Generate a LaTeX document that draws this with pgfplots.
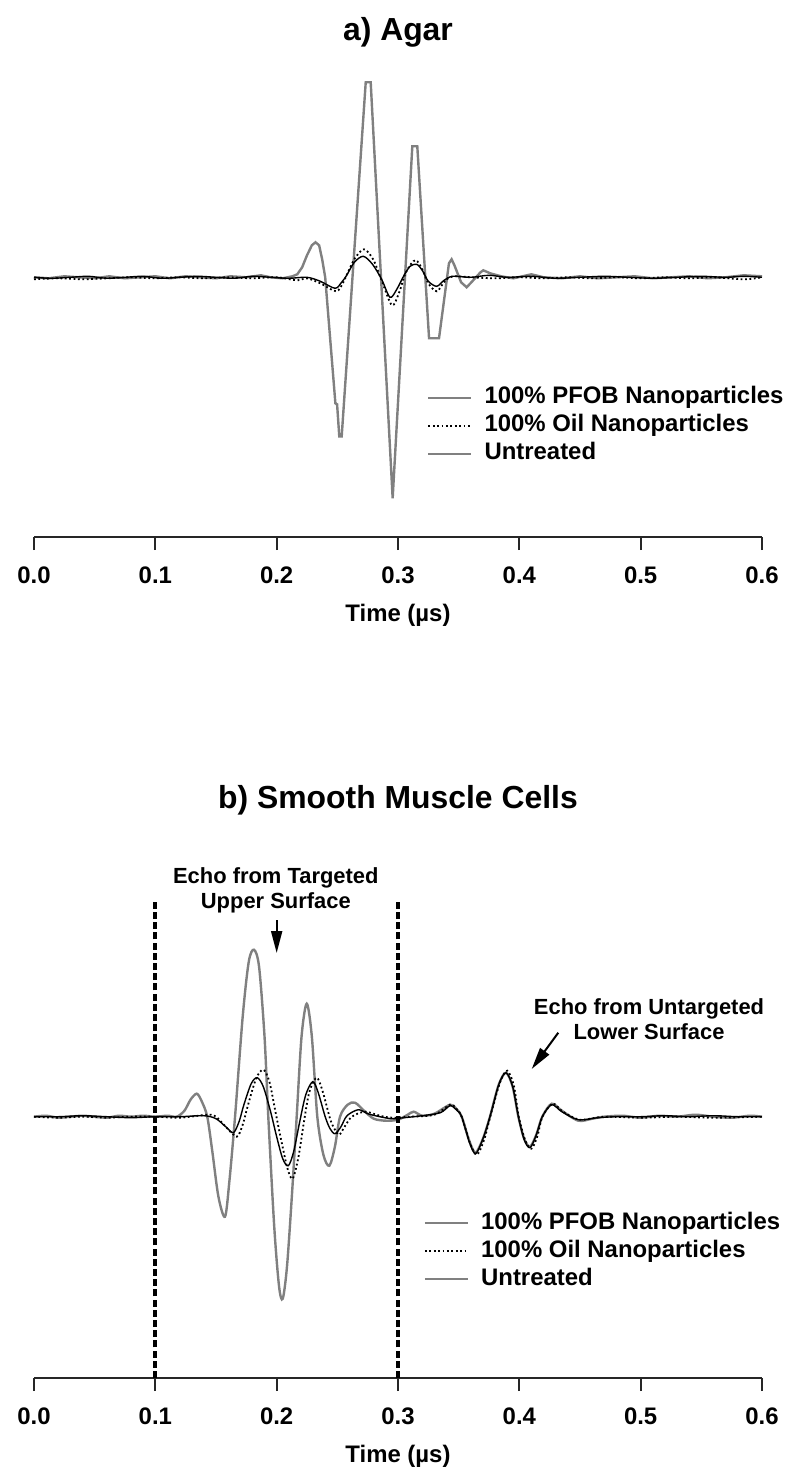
\documentclass[border=0pt]{standalone}
\usepackage{fontspec}
\setmainfont{Liberation Sans}
\usepackage{pgfplots}
\pgfplotsset{compat=1.18}
\usetikzlibrary{arrows.meta}

\definecolor{pfobgray}{RGB}{128,128,128}

\tikzset{
  pfob/.style={pfobgray, line width=1.2bp},
  untr/.style={black, line width=0.7bp},
  oil/.style={black, line width=0.9bp, dash pattern=on 0.9bp off 1.3bp},
}

\pgfplotsset{
  echo axis/.style={
    scale only axis, width=364bp,
    xmin=0, xmax=0.6,
    axis x line=bottom, axis y line=none,
    x axis line style={-, line width=1bp, black!85},
    xtick={0,0.1,0.2,0.3,0.4,0.5,0.6},
    tick align=outside, major tick length=6.5bp,
    xtick style={line width=1bp, black!85},
    /pgf/number format/fixed,
    /pgf/number format/fixed zerofill,
    /pgf/number format/precision=1,
    /pgf/number format/assume math mode=true,
    xticklabel style={font=\bfseries\fontsize{12}{14}\selectfont, anchor=base, yshift=-16.8bp},
    xlabel={Time (µs)},
    xlabel style={font=\bfseries\fontsize{12}{14}\selectfont, at={(axis description cs:0.5,0)}, anchor=base, yshift=-42bp},
    clip=false,
    legend cell align=left,
    legend style={draw=none, fill=none, inner sep=0pt,
      font=\bfseries\fontsize{12}{14}\selectfont,
      row sep=2bp, column sep=6bp,
      nodes={inner sep=0pt, text height=9bp, text depth=3bp}},
    legend image code/.code={\draw[##1] (0bp,0bp) -- (21.5bp,0bp);},
  },
}

\begin{document}
\begin{tikzpicture}
\useasboundingbox (-17bp,-466.5bp) rectangle (383bp,268.5bp);

% ---------- a) Agar ----------
\begin{axis}[echo axis,
  height=233.5bp, ymin=-259.7, ymax=207.3,
  legend style={at={(axis cs:0.3237,-108.3)}, anchor=north west},
]
\addplot[pfob] coordinates {
(0.000,0) (0.012,-1) (0.025,1) (0.037,0) (0.050,-1) (0.062,1) (0.075,-1)
(0.087,0) (0.100,1) (0.112,-1) (0.125,1) (0.137,0) (0.150,-1) (0.162,1)
(0.175,0) (0.187,2) (0.195,0) (0.205,-1) (0.213,1) (0.217,3) (0.221,10)
(0.225,22) (0.229,32) (0.232,35) (0.235,32) (0.2375,18) (0.2400,0)
(0.2484,-126) (0.2498,-127) (0.2516,-159) (0.2536,-159)
(0.2734,195) (0.2775,195) (0.2956,-221) (0.3118,131) (0.3159,131)
(0.3256,-61) (0.3338,-61) (0.3420,14) (0.3442,18) (0.3465,12)
(0.3520,-5) (0.3566,-10) (0.3620,-3) (0.3680,5) (0.3703,7) (0.3760,4)
(0.3850,1) (0.3950,-1) (0.4100,3) (0.4200,0) (0.4350,-1) (0.4500,1)
(0.4650,-1) (0.4800,0) (0.4950,1) (0.5100,-1) (0.5250,0) (0.5400,1)
(0.5550,-1) (0.5700,0) (0.5850,2) (0.6000,1)
};
\addlegendentry{100\% PFOB Nanoparticles}
\addplot[untr, smooth, forget plot] coordinates {
(0.000,0) (0.015,-1) (0.030,0) (0.045,1) (0.060,-1) (0.075,0) (0.090,1)
(0.105,-1) (0.120,0) (0.135,1) (0.150,0) (0.165,-1) (0.180,1) (0.195,0)
(0.210,-1) (0.225,0) (0.236,-4) (0.2481,-11) (0.2535,-5) (0.2577,2)
(0.2640,15) (0.2714,21) (0.2790,13) (0.2865,-2) (0.2934,-20) (0.2990,-12)
(0.3050,2) (0.3100,11) (0.3154,13) (0.3200,7) (0.3250,-4) (0.3319,-9)
(0.3380,-3) (0.3450,1) (0.3600,0) (0.3750,2) (0.3900,0) (0.4100,1)
(0.4300,-1) (0.4500,0) (0.4700,1) (0.4900,0) (0.5100,-1) (0.5300,0)
(0.5500,1) (0.5700,0) (0.5850,1) (0.6000,0)
};
\addplot[oil, smooth] coordinates {
(0.000,-2) (0.020,-1) (0.040,-2) (0.060,-1) (0.080,0) (0.100,-1) (0.120,0)
(0.140,-1) (0.160,0) (0.180,-1) (0.200,0) (0.2168,-3) (0.2250,-1)
(0.2360,-6) (0.2490,-14) (0.2545,-6) (0.2580,3) (0.2645,19) (0.2720,28)
(0.2795,18) (0.2865,-3) (0.2950,-28) (0.3010,-15) (0.3055,2) (0.3105,13)
(0.3150,17) (0.3200,8) (0.3250,-6) (0.3320,-14) (0.3385,-4) (0.3450,1)
(0.3600,0) (0.3800,-1) (0.4000,0) (0.4200,-1) (0.4400,0) (0.4600,-1)
(0.4800,0) (0.5000,-1) (0.5200,0) (0.5400,-1) (0.5600,0) (0.5850,-2)
(0.6000,0)
};
\addlegendentry{100\% Oil Nanoparticles}
\addlegendimage{pfobgray, line width=1.2bp}
\addlegendentry{Untreated}
\node[font=\bfseries\fontsize{16}{19}\selectfont, anchor=base] at (axis cs:0.3,236.3) {a) Agar};
\end{axis}

% ---------- b) Smooth Muscle Cells ----------
\begin{axis}[echo axis,
  at={(0,-420.5bp)}, anchor=south west,
  height=244bp, ymin=-261.3, ymax=226.7,
  legend style={at={(axis cs:0.3209,-93.9)}, anchor=north west},
]
\addplot[pfob, smooth] coordinates {
(0.000,0) (0.010,1) (0.020,-1) (0.030,0) (0.040,1) (0.050,0) (0.060,-1)
(0.070,1) (0.080,0) (0.090,1) (0.100,0) (0.110,1) (0.1176,0) (0.124,6)
(0.129,17) (0.1341,23) (0.138,16) (0.1428,0) (0.147,-35) (0.152,-80)
(0.1574,-100) (0.1610,-65) (0.1657,0) (0.1720,100) (0.1770,155)
(0.1813,167) (0.1855,150) (0.1900,80) (0.1931,0) (0.1980,-110)
(0.2020,-170) (0.2050,-182) (0.2085,-150) (0.2125,-80) (0.2165,0)
(0.2205,80) (0.2248,113) (0.2290,80) (0.2335,0) (0.2385,-38)
(0.2434,-49) (0.2480,-30) (0.2522,0) (0.2585,12) (0.2646,14)
(0.2720,6) (0.2800,-2) (0.2900,-4) (0.3000,-3) (0.3080,2) (0.3130,5)
(0.3200,1) (0.3300,3) (0.3429,12) (0.3480,8) (0.3525,0) (0.3590,-25)
(0.3640,-36) (0.3700,-22) (0.3758,0) (0.3830,32) (0.3890,44)
(0.3945,30) (0.3992,0) (0.4040,-22) (0.4088,-30) (0.4140,-18)
(0.4189,0) (0.4267,13) (0.4350,6) (0.4486,-4) (0.4600,-2) (0.4700,0)
(0.4850,1) (0.5000,-1) (0.5150,1) (0.5300,0) (0.5450,2) (0.5600,0)
(0.5750,-1) (0.5900,1) (0.6000,0)
};
\addlegendentry{100\% PFOB Nanoparticles}
\addplot[untr, smooth, forget plot] coordinates {
(0.000,0) (0.020,0) (0.040,1) (0.060,0) (0.080,-1) (0.100,0) (0.120,0)
(0.140,1) (0.150,-2) (0.158,-10) (0.1643,-16) (0.1690,-5) (0.1730,12)
(0.1790,33) (0.1840,39) (0.1890,30) (0.1950,5) (0.2000,-20) (0.2050,-42)
(0.2096,-49) (0.2140,-35) (0.2190,-5) (0.2240,22) (0.2297,35)
(0.2340,25) (0.2400,0) (0.2440,-12) (0.2481,-17) (0.2530,-10)
(0.2580,1) (0.2673,7) (0.2750,3) (0.2850,0) (0.2950,-2) (0.3050,-1)
(0.3200,1) (0.3350,4) (0.3429,11) (0.3480,7) (0.3525,0) (0.3590,-26)
(0.3640,-37) (0.3700,-22) (0.3758,0) (0.3830,32) (0.3890,44)
(0.3945,30) (0.3992,0) (0.4040,-23) (0.4088,-31) (0.4140,-18)
(0.4189,0) (0.4267,12) (0.4350,5) (0.4486,-3) (0.4650,-1) (0.4800,0)
(0.5000,0) (0.5200,1) (0.5400,0) (0.5600,1) (0.5800,0) (0.6000,0)
};
\addplot[oil, smooth] coordinates {
(0.000,0) (0.020,-1) (0.040,0) (0.060,-1) (0.080,0) (0.100,0) (0.120,-1)
(0.1437,2) (0.150,0) (0.158,-10) (0.1671,-20) (0.1720,-8) (0.1760,10)
(0.1830,38) (0.1890,47) (0.1940,35) (0.1990,5) (0.2040,-25)
(0.2090,-52) (0.2132,-62) (0.2180,-40) (0.2225,-5) (0.2270,25)
(0.2330,39) (0.2380,25) (0.2440,-2) (0.2480,-13) (0.2516,-18)
(0.2560,-10) (0.2620,0) (0.2728,5) (0.2850,1) (0.2950,-1) (0.3100,0)
(0.3300,2) (0.3429,12) (0.3480,8) (0.3525,0) (0.3595,-27) (0.3650,-38)
(0.3710,-23) (0.3760,0) (0.3840,34) (0.3900,46) (0.3955,31) (0.3995,0)
(0.4050,-24) (0.4100,-32) (0.4150,-19) (0.4190,0) (0.4275,13)
(0.4360,5) (0.4500,-3) (0.4700,0) (0.5000,-1) (0.5300,0) (0.5600,-1)
(0.6000,0)
};
\addlegendentry{100\% Oil Nanoparticles}
\addlegendimage{pfobgray, line width=1.2bp}
\addlegendentry{Untreated}
% boundaries of the targeted echo window
\addplot[black, line width=2bp, dash pattern=on 3.5bp off 1.6bp, forget plot]
  coordinates {(0.1,-261.3) (0.1,216.7)};
\addplot[black, line width=2bp, dash pattern=on 3.5bp off 1.6bp, forget plot]
  coordinates {(0.3,-261.3) (0.3,216.7)};
\node[font=\bfseries\fontsize{16}{19}\selectfont, anchor=base] at (axis cs:0.3,308.2) {b) Smooth Muscle Cells};
\node[font=\bfseries\fontsize{11}{12.5}\selectfont, align=center] at (axis cs:0.1993,226.2) {Echo from Targeted\\Upper Surface};
\draw[-{Triangle[length=11bp,width=5.5bp]}, line width=1bp] (axis cs:0.2,196.7) -- (axis cs:0.2,163.7);
\node[font=\bfseries\fontsize{11}{12.5}\selectfont, align=center] at (axis cs:0.5069,97.9) {Echo from Untargeted\\Lower Surface};
\draw[-{Triangle[length=11bp,width=5.5bp]}, line width=1bp] (axis cs:0.4321,84) -- (axis cs:0.4102,47.7);
\end{axis}
\end{tikzpicture}
\end{document}
